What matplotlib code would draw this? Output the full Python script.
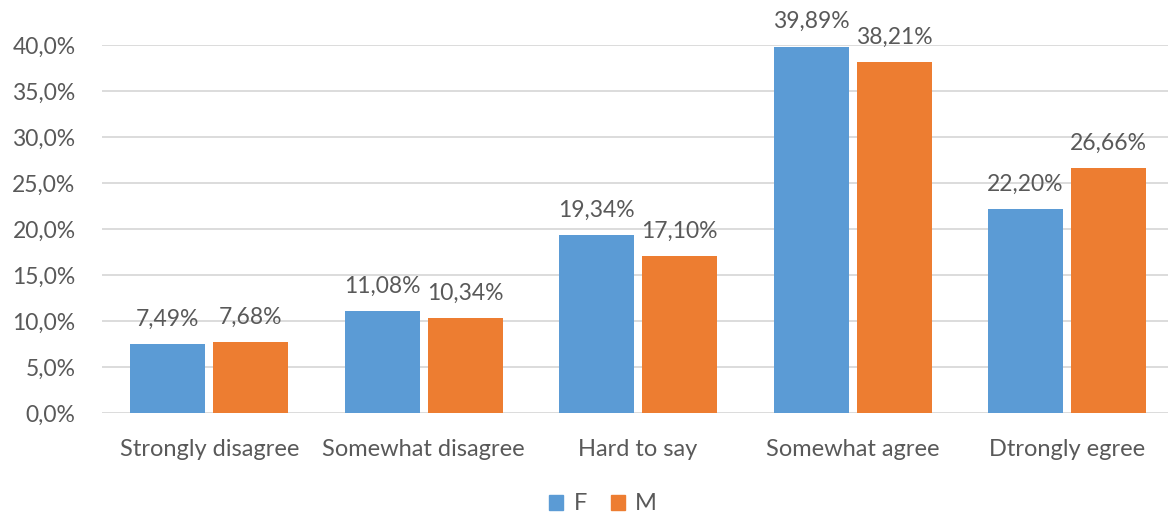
import matplotlib
matplotlib.use("Agg")
import matplotlib.pyplot as plt
import numpy as np
from matplotlib.patches import Patch

categories = ["Strongly disagree", "Somewhat disagree", "Hard to say", "Somewhat agree", "Dtrongly egree"]
series_names = ["F", "M"]
f_values = [7.49, 11.08, 19.34, 39.89, 22.20]
m_values = [7.68, 10.34, 17.10, 38.21, 26.66]
yticks = [0, 5, 10, 15, 20, 25, 30, 35, 40]
ytick_labels = ["0,0%", "5,0%", "10,0%", "15,0%", "20,0%", "25,0%", "30,0%", "35,0%", "40,0%"]

plt.rcParams['font.family'] = ['Lato', 'DejaVu Sans']
FW = "normal"
TXT = "#595959"
BLUE = "#5B9BD5"
ORANGE = "#ED7D31"

W, H = 1168, 516
fig = plt.figure(figsize=(W / 100, H / 100), dpi=100)
left, right, top, bottom = 102, 1168, 45.5, 413
ax = fig.add_axes([left / W, 1 - bottom / H, (right - left) / W, (bottom - top) / H])

x = np.arange(len(categories))
bw = 0.35
off = 0.1935
b1 = ax.bar(x - off, f_values, bw, color=BLUE, zorder=3)
b2 = ax.bar(x + off, m_values, bw, color=ORANGE, zorder=3)

for bars, vals in ((b1, f_values), (b2, m_values)):
    for r, v in zip(bars, vals):
        ax.text(r.get_x() + r.get_width() / 2, v + 1.55, f"{v:.2f}%".replace(".", ","),
                ha="center", va="bottom", fontsize=16.5, color=TXT, fontweight=FW, clip_on=False)

ax.set_xlim(-0.5, 4.471)
ax.set_ylim(0, 40)
ax.set_yticks(yticks)
ax.set_yticklabels(ytick_labels, fontsize=16.5, color=TXT, fontweight=FW)
ax.set_xticks(x)
ax.set_xticklabels(categories, fontsize=17, color=TXT, fontweight=FW)
ax.tick_params(axis="both", length=0)
ax.tick_params(axis="y", pad=19)
ax.tick_params(axis="x", pad=19)
ax.grid(axis="y", color="#D9D9D9", linewidth=1.3, zorder=0)
for s in ax.spines.values():
    s.set_visible(False)

handles = [Patch(color=BLUE, label="F"), Patch(color=ORANGE, label="M")]
leg = fig.legend(handles=handles, loc="center", bbox_to_anchor=(603 / W, 1 - 504 / H), ncol=2,
                 frameon=False, fontsize=17, labelcolor=TXT, handlelength=0.6, handleheight=0.6,
                 handletextpad=0.45, columnspacing=1.0)
for t in leg.get_texts():
    t.set_fontweight(FW)

fig.savefig("out.png", dpi=100)
